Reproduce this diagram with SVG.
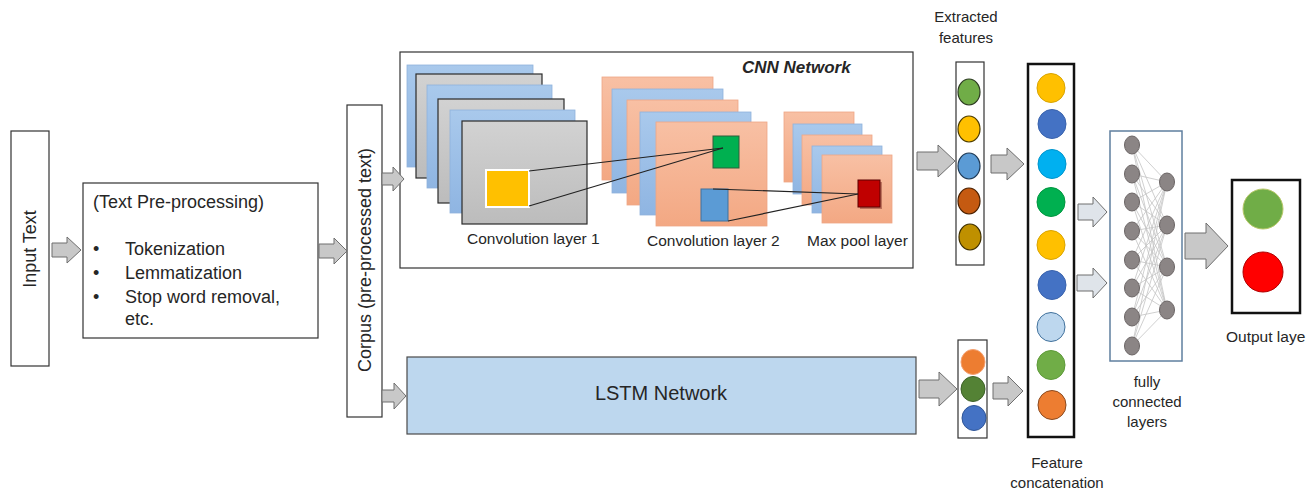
<svg xmlns="http://www.w3.org/2000/svg" width="1308" height="490" viewBox="0 0 1308 490">
<style>
.box{fill:#fff;stroke:#333;stroke-width:1.2}
.t{font-family:"Liberation Sans",Arial,sans-serif;fill:#262626}
.arr{fill:#c8c8c8;stroke:#6f6f6f;stroke-width:1}
.arrb{fill:#dfe4ea;stroke:#6f6f6f;stroke-width:1}
.gr{fill:url(#gGray);stroke:#2b2b2b;stroke-width:1.2}
.bl{fill:url(#gBlue);stroke:#8fb2dc;stroke-width:0.8}
.sa{fill:url(#gSalmon);stroke:#eea686;stroke-width:0.8}
.fcl{stroke:#c4c4c4;stroke-width:0.8}
.fcn{fill:#8b8585;stroke:#6a6464;stroke-width:1}
.lk{stroke:#222;stroke-width:1.2;fill:none}
</style>
<defs>
<linearGradient id="gGray" x1="0" y1="0" x2="0" y2="1"><stop offset="0" stop-color="#d2d2d2"/><stop offset="1" stop-color="#bcbcbc"/></linearGradient>
<linearGradient id="gBlue" x1="0" y1="0" x2="0" y2="1"><stop offset="0" stop-color="#a9c9ec"/><stop offset="1" stop-color="#8fb5e2"/></linearGradient>
<linearGradient id="gSalmon" x1="0" y1="0" x2="0" y2="1"><stop offset="0" stop-color="#f8c0a4"/><stop offset="1" stop-color="#f3a883"/></linearGradient>
</defs>

<g id="input-text">
<rect class="box" x="11" y="131" width="38" height="235"/>
<text class="t" font-size="18" text-anchor="middle" transform="translate(36,249) rotate(-90)">Input Text</text>
</g>

<g id="preprocessing">
<rect class="box" x="83" y="183" width="235" height="155"/>
<text class="t" font-size="18" x="93" y="208">(Text Pre-processing)</text>
<text class="t" font-size="18" x="93" y="255">•</text>
<text class="t" font-size="18" x="93" y="279">•</text>
<text class="t" font-size="18" x="93" y="303">•</text>
<text class="t" font-size="18" x="125" y="255">Tokenization</text>
<text class="t" font-size="18" x="125" y="279">Lemmatization</text>
<text class="t" font-size="18" x="125" y="303">Stop word removal,</text>
<text class="t" font-size="18" x="125" y="325">etc.</text>
</g>

<g id="corpus">
<rect class="box" x="347" y="105" width="35" height="312"/>
<text class="t" font-size="18" text-anchor="middle" transform="translate(371,260) rotate(-90)">Corpus (pre-processed text)</text>
</g>

<g id="cnn-network">
<rect class="box" x="400" y="52" width="513" height="216"/>
<text class="t" font-size="17" font-weight="bold" font-style="italic" x="742" y="73">CNN Network</text>
<rect class="bl" x="407" y="65" width="126" height="102"/>
<rect class="gr" x="416" y="74" width="126" height="104"/>
<rect class="bl" x="427" y="85" width="125" height="103"/>
<rect class="gr" x="438" y="99" width="126" height="104"/>
<rect class="bl" x="450" y="110" width="125" height="103"/>
<rect class="gr" x="462" y="121" width="125" height="103"/>
<rect x="486" y="170" width="43" height="37" fill="#ffc000" stroke="#fff" stroke-width="2"/>
<text class="t" font-size="15.5" x="467" y="244">Convolution layer 1</text>

<rect class="sa" x="602" y="77" width="111" height="103"/>
<rect class="bl" x="612" y="89" width="111" height="104"/>
<rect class="sa" x="627" y="100" width="111" height="105"/>
<rect class="bl" x="640" y="112" width="111" height="103"/>
<rect class="sa" x="656" y="122" width="111" height="104"/>
<rect x="713" y="136" width="26" height="32" fill="#00b050" stroke="#2f5f3a" stroke-width="1"/>
<rect x="701" y="189" width="27" height="32" fill="#5b9bd5" stroke="#41719c" stroke-width="1"/>
<text class="t" font-size="15.5" x="647" y="246">Convolution layer 2</text>

<rect class="sa" x="784" y="112" width="70" height="70"/>
<rect class="bl" x="793" y="124" width="69" height="70"/>
<rect class="sa" x="802" y="135" width="70" height="70"/>
<rect class="bl" x="812" y="146" width="70" height="67"/>
<rect class="sa" x="822" y="155" width="70" height="68"/>
<rect x="860" y="182" width="22" height="27" fill="#500" opacity="0.35"/>
<rect x="858" y="180" width="22" height="27" fill="#c00000" stroke="#5a0000" stroke-width="1"/>
<text class="t" font-size="15.5" x="807" y="246">Max pool layer</text>
<line class="lk" x1="529" y1="171" x2="723" y2="148"/>
<line class="lk" x1="529" y1="206" x2="723" y2="148"/>
<line class="lk" x1="713" y1="189" x2="858" y2="194"/>
<line class="lk" x1="728" y1="221" x2="858" y2="194"/>
</g>

<g id="lstm-network">
<rect x="407" y="357" width="509" height="77" fill="#bdd7ee" stroke="#4a4a4a" stroke-width="1.2"/>
<text class="t" font-size="20" text-anchor="middle" x="661" y="400">LSTM Network</text>
</g>

<g id="extracted-features">
<text class="t" font-size="15" text-anchor="middle" x="966" y="22">Extracted</text>
<text class="t" font-size="15" text-anchor="middle" x="966" y="43">features</text>
<rect class="box" x="956" y="62" width="28" height="203"/>
<ellipse cx="969" cy="92" rx="11" ry="13" fill="#70ad47" stroke="#2d3b22" stroke-width="1.2"/>
<ellipse cx="969" cy="129" rx="11" ry="13" fill="#ffc000" stroke="#4d3c00" stroke-width="1.2"/>
<ellipse cx="969" cy="166" rx="11" ry="13" fill="#5b9bd5" stroke="#1f3a55" stroke-width="1.2"/>
<ellipse cx="969" cy="201" rx="11" ry="13" fill="#c55a11" stroke="#4a2000" stroke-width="1.2"/>
<ellipse cx="970" cy="237" rx="11" ry="13" fill="#bf9000" stroke="#3f3000" stroke-width="1.2"/>
</g>

<g id="lstm-features">
<rect class="box" x="958" y="340" width="29" height="98"/>
<ellipse cx="973" cy="362" rx="12" ry="12.5" fill="#ed7d31" stroke="#f4a070" stroke-width="1"/>
<ellipse cx="973" cy="389" rx="12" ry="12.5" fill="#548235" stroke="#3d6027" stroke-width="1"/>
<ellipse cx="974" cy="418" rx="12" ry="12.5" fill="#4472c4" stroke="#2f5597" stroke-width="1"/>
</g>

<g id="feature-concatenation">
<rect x="1028" y="64" width="46" height="373" fill="#fff" stroke="#111" stroke-width="2.5"/>
<ellipse cx="1051" cy="88" rx="14" ry="14.5" fill="#ffc000" stroke="#d9a400" stroke-width="1"/>
<ellipse cx="1052" cy="124" rx="14" ry="14.5" fill="#4472c4" stroke="#3a63ad" stroke-width="1"/>
<ellipse cx="1052" cy="164" rx="14" ry="14.5" fill="#00b0f0" stroke="#0095cc" stroke-width="1"/>
<ellipse cx="1051" cy="202" rx="14" ry="14.5" fill="#00b050" stroke="#00963f" stroke-width="1"/>
<ellipse cx="1051" cy="245" rx="14" ry="14.5" fill="#ffc000" stroke="#d9a400" stroke-width="1"/>
<ellipse cx="1052" cy="285" rx="14" ry="14.5" fill="#4472c4" stroke="#3a63ad" stroke-width="1"/>
<ellipse cx="1051" cy="327" rx="14" ry="14.5" fill="#bdd7ee" stroke="#41719c" stroke-width="1"/>
<ellipse cx="1051" cy="365" rx="14" ry="14.5" fill="#70ad47" stroke="#5e9a3a" stroke-width="1"/>
<ellipse cx="1052" cy="405" rx="14" ry="14.5" fill="#ed7d31" stroke="#8a4a1f" stroke-width="1"/>
<text class="t" font-size="15" text-anchor="middle" x="1057" y="468">Feature</text>
<text class="t" font-size="15" text-anchor="middle" x="1057" y="488">concatenation</text>
</g>

<g id="fully-connected-layers">
<rect x="1110" y="131" width="72" height="230" fill="#fff" stroke="#5f7f9f" stroke-width="1.5"/>
<g class="fcl">
<path d="M1132 145L1167 182M1132 145L1167 225M1132 145L1167 267M1132 145L1167 310
M1132 174L1167 182M1132 174L1167 225M1132 174L1167 267M1132 174L1167 310
M1132 202L1167 182M1132 202L1167 225M1132 202L1167 267M1132 202L1167 310
M1132 231L1167 182M1132 231L1167 225M1132 231L1167 267M1132 231L1167 310
M1132 260L1167 182M1132 260L1167 225M1132 260L1167 267M1132 260L1167 310
M1132 288L1167 182M1132 288L1167 225M1132 288L1167 267M1132 288L1167 310
M1132 317L1167 182M1132 317L1167 225M1132 317L1167 267M1132 317L1167 310
M1132 346L1167 182M1132 346L1167 225M1132 346L1167 267M1132 346L1167 310" fill="none"/>
</g>
<ellipse class="fcn" cx="1132" cy="145" rx="7.5" ry="9"/>
<ellipse class="fcn" cx="1132" cy="174" rx="7.5" ry="9"/>
<ellipse class="fcn" cx="1132" cy="202" rx="7.5" ry="9"/>
<ellipse class="fcn" cx="1132" cy="231" rx="7.5" ry="9"/>
<ellipse class="fcn" cx="1132" cy="260" rx="7.5" ry="9"/>
<ellipse class="fcn" cx="1132" cy="288" rx="7.5" ry="9"/>
<ellipse class="fcn" cx="1132" cy="317" rx="7.5" ry="9"/>
<ellipse class="fcn" cx="1132" cy="346" rx="7.5" ry="9"/>
<ellipse class="fcn" cx="1167" cy="182" rx="7.5" ry="9"/>
<ellipse class="fcn" cx="1167" cy="225" rx="7.5" ry="9"/>
<ellipse class="fcn" cx="1167" cy="267" rx="7.5" ry="9"/>
<ellipse class="fcn" cx="1167" cy="310" rx="7.5" ry="9"/>
<text class="t" font-size="15" text-anchor="middle" x="1147" y="387">fully</text>
<text class="t" font-size="15" text-anchor="middle" x="1147" y="407">connected</text>
<text class="t" font-size="15" text-anchor="middle" x="1147" y="427">layers</text>
</g>

<g id="output-layer">
<rect x="1232" y="180" width="68" height="133" fill="#fff" stroke="#111" stroke-width="2.5"/>
<circle cx="1263" cy="209" r="20" fill="#70ad47" stroke="#b8c86a" stroke-width="1"/>
<circle cx="1263" cy="272" r="20" fill="#ff0000" stroke="#b00000" stroke-width="1"/>
<text class="t" font-size="15.5" x="1226" y="342">Output laye</text>
</g>

<g id="connectors">
<path class="arr" d="M52 243H67V237L81 250L67 263V257H52Z"/>
<path class="arr" d="M319 244H334V238L347 251L334 264V258H319Z"/>
<path class="arr" d="M382 173H393V167L404 179L393 191V185H382Z"/>
<path class="arr" d="M382 390H394V383L406 396L394 409V402H382Z"/>
<path class="arr" d="M917 152H938V145L955 161L938 177V170H917Z"/>
<path class="arr" d="M991 155H1007V148L1024 164L1007 180V173H991Z"/>
<path class="arr" d="M919 380H939V372L957 389L939 406V398H919Z"/>
<path class="arr" d="M993 383H1008V376L1023 391L1008 406V399H993Z"/>
<path class="arrb" d="M1078 204H1093V197L1107 212L1093 227V220H1078Z"/>
<path class="arrb" d="M1077 275H1093V268L1107 283L1093 298V291H1077Z"/>
<path class="arr" d="M1185 233H1206V223L1228 246L1206 269V259H1185Z"/>
</g>
</svg>
